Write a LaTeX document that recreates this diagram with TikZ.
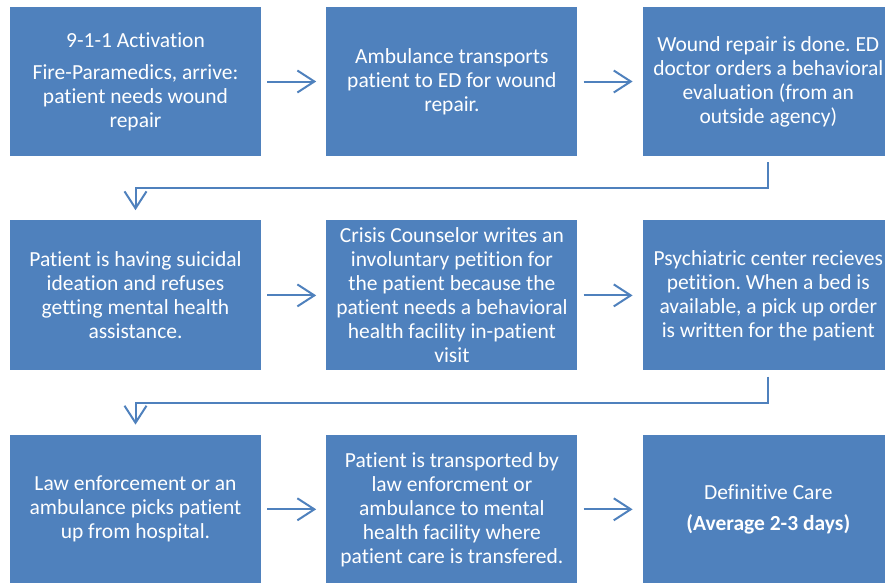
\documentclass[tikz,border=0pt]{standalone}
\usepackage{fontspec}
\setmainfont{Carlito}[Ligatures=NoCommon]
\usetikzlibrary{positioning,arrows.meta}
\definecolor{boxblue}{HTML}{4F81BD}

\begin{document}
\begin{tikzpicture}[x=1pt,y=-1pt,
    stage/.style={fill=boxblue,text=white,minimum width=251pt,minimum height=149pt,
      inner sep=0pt,align=center,font=\fontsize{21.5}{24}\selectfont\frenchspacing},
    flow/.style={draw=boxblue,line width=2pt,shorten <=6pt,shorten >=10pt,
      -{Straight Barb[length=17pt,width=22pt]}}]
\useasboundingbox (0,0) rectangle (885,582);
% first row
\node[stage] (activation) at (135.5,81.5)
  {9-1-1 Activation\\[8pt]Fire-Paramedics, arrive:\\patient needs wound\\repair};
\node[stage,right=65pt of activation] (transport)
  {Ambulance transports\\patient to ED for wound\\repair.};
\node[stage,right=65pt of transport] (repair)
  {Wound repair is done. ED\\doctor orders a behavioral\\evaluation (from an\\outside agency)};
% second row
\node[stage,below=64pt of activation,minimum height=150pt] (ideation)
  {Patient is having suicidal\\ideation and refuses\\getting mental health\\assistance.};
\node[stage,right=65pt of ideation,minimum height=150pt] (counselor)
  {Crisis Counselor writes an\\involuntary petition for\\the patient because the\\patient needs a behavioral\\health facility in-patient\\visit};
\node[stage,right=65pt of counselor,minimum height=150pt] (petition)
  {Psychiatric center recieves\\petition. When a bed is\\available, a pick up order\\is written for the patient};
% third row
\node[stage,below=64pt of ideation] (pickup)
  {Law enforcement or an\\ambulance picks patient\\up from hospital.};
\node[stage,right=65pt of pickup] (facility)
  {Patient is transported by\\law enforcment or\\ambulance to mental\\health facility where\\patient care is transfered.};
\node[stage,right=65pt of facility] (care)
  {Definitive Care\\[7pt]\textbf{(Average 2-3 days)}};
% connectors
\draw[flow] (activation) -- (transport);
\draw[flow] (transport) -- (repair);
\draw[flow] (repair.south) -- ++(0,32) -| (ideation.north);
\draw[flow] (ideation) -- (counselor);
\draw[flow] (counselor) -- (petition);
\draw[flow] (petition.south) -- ++(0,32) -| (pickup.north);
\draw[flow] (pickup) -- (facility);
\draw[flow] (facility) -- (care);
\end{tikzpicture}
\end{document}
